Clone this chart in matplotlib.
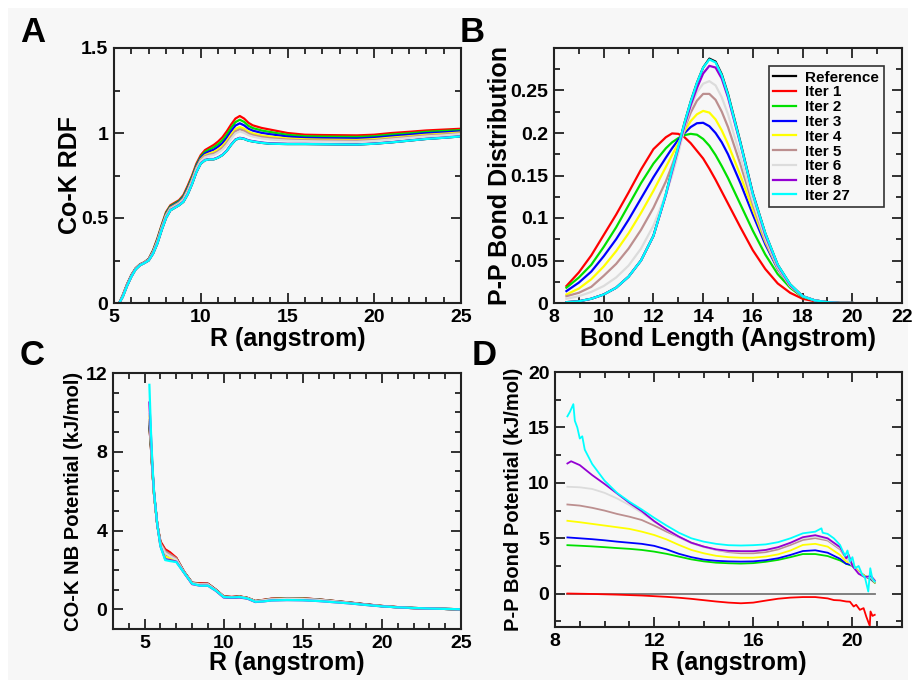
import matplotlib
matplotlib.use("Agg")
import matplotlib.pyplot as plt
from matplotlib.ticker import MultipleLocator, FuncFormatter
from matplotlib.patches import Rectangle

plt.rcParams['font.family'] = ['Liberation Sans', 'DejaVu Sans']
plt.rcParams['font.weight'] = 'bold'

# ---------------- data ----------------
series_names = ["Reference", "Iter 1", "Iter 2", "Iter 3", "Iter 4", "Iter 5", "Iter 6", "Iter 8", "Iter 27"]
series_colors = ["#000000", "#ff0000", "#00e000", "#0000ff", "#ffff00", "#bc8f8f", "#dcdcdc", "#9400d3", "#00ffff"]

# Panel A: Co-K RDF
a_r = [5.3, 5.5, 5.75, 6.0, 6.25, 6.5, 6.75, 7.0, 7.25, 7.5, 7.75, 8.0, 8.25, 8.5, 8.75, 9.0, 9.25, 9.5, 9.75,
       10.0, 10.25, 10.5, 10.75, 11.0, 11.25, 11.5, 11.75, 12.0, 12.25, 12.5, 12.75, 13.0, 13.5, 14, 15, 16, 17,
       18, 19, 20, 21, 22, 23, 24, 25]
a_ref = [0, .035, .10, .155, .198, .222, .235, .25, .29, .35, .43, .50, .545, .56, .575, .595, .64, .70, .77, .82,
         .84, .845, .845, .855, .87, .895, .93, .96, .97, .965, .955, .95, .942, .937, .935, .935, .934, .933, .932,
         .937, .945, .955, .965, .972, .98]
a_it1 = [0, .045, .11, .165, .205, .228, .24, .26, .31, .38, .46, .535, .575, .59, .605, .635, .69, .75, .82, .87,
         .90, .915, .93, .95, .975, 1.01, 1.05, 1.085, 1.10, 1.085, 1.06, 1.045, 1.03, 1.02, 1.0, .99, .988, .987,
         .986, .99, 1.0, 1.007, 1.015, 1.02, 1.025]
a_it2 = [0, .043, .108, .163, .204, .227, .239, .258, .307, .375, .455, .529, .57, .585, .6, .628, .681, .741, .811,
         .861, .89, .903, .916, .934, .957, .99, 1.03, 1.064, 1.078, 1.065, 1.042, 1.029, 1.015, 1.006, .989, .981,
         .979, .978, .977, .981, .991, .998, 1.007, 1.012, 1.017]
a_it3 = [0, .042, .107, .162, .203, .226, .238, .257, .303, .37, .45, .523, .565, .58, .595, .622, .674, .733, .804,
         .854, .88, .892, .902, .919, .94, .972, 1.01, 1.044, 1.057, 1.045, 1.025, 1.014, 1.001, .993, .979, .972,
         .97, .969, .968, .973, .982, .99, .999, 1.004, 1.01]
a_it4 = [0, .04, .105, .16, .202, .225, .238, .255, .30, .365, .445, .518, .56, .575, .59, .615, .665, .725, .795,
         .845, .87, .88, .888, .903, .923, .953, .99, 1.023, 1.035, 1.025, 1.008, .998, .986, .979, .968, .963,
         .961, .96, .959, .964, .973, .981, .99, .996, 1.003]
a_it5 = [0, .039, .104, .159, .201, .224, .237, .254, .298, .362, .442, .514, .557, .572, .587, .611, .66, .72, .79,
         .84, .864, .873, .879, .893, .912, .941, .978, 1.01, 1.022, 1.013, .997, .988, .977, .97, .961, .957,
         .956, .955, .954, .958, .967, .976, .985, .991, .998]
a_it6 = [0, .038, .103, .158, .2, .224, .237, .253, .296, .359, .439, .51, .554, .569, .584, .607, .655, .715, .785,
         .835, .858, .866, .87, .884, .902, .93, .966, .998, 1.009, 1.001, .987, .979, .968, .962, .955, .952,
         .95, .949, .948, .953, .962, .971, .98, .986, .994]
a_it8 = [0, .036, .101, .156, .199, .223, .236, .251, .292, .352, .432, .502, .547, .562, .577, .597, .642, .702,
         .772, .822, .842, .847, .847, .857, .872, .897, .932, .962, .972, .967, .957, .952, .944, .939, .936,
         .936, .935, .934, .933, .938, .946, .956, .966, .973, .981]
a_it27 = [0, .035, .10, .155, .198, .222, .235, .25, .29, .35, .43, .50, .545, .56, .575, .595, .64, .70, .77, .82,
          .84, .845, .845, .855, .87, .895, .93, .96, .97, .965, .955, .95, .942, .937, .935, .935, .934, .933,
          .932, .937, .945, .955, .965, .972, .98]

# Panel B: P-P bond distribution
b_len = [8.5, 9.0, 9.5, 10.0, 10.5, 11.0, 11.5, 12.0, 12.5, 12.75, 13.0, 13.25, 13.5, 13.75, 14.0, 14.25, 14.5,
         14.75, 15.0, 15.5, 16.0, 16.5, 17.0, 17.5, 18.0, 18.5, 19.0, 19.5, 20.0]
b_ref = [.001, .002, .005, .010, .018, .031, .050, .079, .128, .157, .184, .212, .237, .259, .277, .2875, .284,
         .269, .246, .189, .129, .082, .045, .022, .008, .003, .001, 0.0, 0.0]
b_it1 = [.020, .036, .056, .080, .104, .130, .157, .181, .195, .1995, .199, .195, .188, .179, .170, .158, .145,
         .131, .117, .089, .062, .040, .023, .012, .005, .002, .001, 0.0, 0.0]
b_it2 = [.018, .030, .045, .066, .089, .115, .141, .164, .182, .189, .194, .1975, .199, .198, .193, .185, .174,
         .161, .147, .116, .085, .057, .034, .018, .007, .003, .001, 0.0, 0.0]
b_it3 = [.014, .024, .037, .055, .075, .098, .123, .148, .171, .182, .192, .200, .207, .2115, .212, .208, .200,
         .189, .175, .141, .104, .069, .040, .020, .008, .003, .001, 0.0, 0.0]
b_it4 = [.010, .017, .028, .043, .061, .082, .106, .132, .160, .174, .188, .202, .214, .222, .226, .224, .216,
         .203, .187, .150, .110, .072, .041, .020, .008, .003, .001, 0.0, 0.0]
b_it5 = [.008, .012, .019, .032, .046, .064, .086, .112, .143, .162, .183, .205, .224, .238, .246, .246, .239,
         .225, .207, .163, .116, .074, .041, .020, .008, .003, .001, 0.0, 0.0]
b_it6 = [.005, .008, .013, .020, .030, .044, .064, .091, .128, .150, .176, .206, .230, .248, .258, .261, .256,
         .242, .222, .172, .120, .076, .042, .020, .008, .003, .001, 0.0, 0.0]
b_it8 = [.001, .002, .005, .010, .018, .031, .050, .079, .127, .155, .182, .209, .233, .253, .270, .279, .277,
         .264, .242, .187, .128, .080, .044, .021, .008, .003, .001, 0.0, 0.0]
b_it27 = [.001, .002, .005, .010, .018, .031, .050, .079, .128, .157, .184, .212, .237, .259, .277, .2865, .283,
          .268, .245, .188, .128, .082, .045, .022, .008, .003, .001, 0.0, 0.0]

# Panel C: CO-K NB potential
c_r = [5.3, 5.4, 5.5, 5.6, 5.8, 6.0, 6.3, 6.6, 7.0, 7.5, 8.0, 8.5, 9.0, 9.5, 10.0, 10.5, 11.0, 11.5, 12.0, 12.5,
       13, 14, 15, 16, 17, 18, 19, 20, 21, 22, 23, 24, 25]
c_ref = [9.3, 8.2, 6.9, 5.8, 4.3, 3.4, 3.0, 2.85, 2.6, 1.9, 1.35, 1.3, 1.3, 1.0, 0.65, 0.62, 0.65, 0.58, 0.42, 0.47,
         0.53, 0.56, 0.55, 0.5, 0.42, 0.34, 0.25, 0.17, 0.11, 0.07, 0.04, 0.02, -0.03]
c_it1 = [9.3, 8.2, 6.9, 5.8, 4.3, 3.45, 3.05, 2.9, 2.62, 1.9, 1.35, 1.32, 1.3, 1.0, 0.66, 0.63, 0.66, 0.58, 0.42, 0.48,
         0.54, 0.57, 0.56, 0.5, 0.42, 0.34, 0.25, 0.17, 0.11, 0.07, 0.04, 0.02, 0.0]
c_it2 = [9.4, 8.3, 7.0, 5.8, 4.3, 3.35, 2.9, 2.75, 2.55, 1.88, 1.33, 1.28, 1.27, 0.98, 0.64, 0.61, 0.64, 0.57, 0.41,
         0.46, 0.52, 0.55, 0.54, 0.49, 0.41, 0.33, 0.24, 0.16, 0.1, 0.06, 0.04, 0.02, 0.0]
c_it3 = [9.5, 8.4, 7.0, 5.8, 4.3, 3.3, 2.8, 2.65, 2.5, 1.86, 1.32, 1.25, 1.25, 0.97, 0.63, 0.61, 0.63, 0.56, 0.4,
         0.45, 0.5, 0.53, 0.52, 0.48, 0.4, 0.32, 0.24, 0.16, 0.1, 0.06, 0.04, 0.02, 0.0]
c_it4 = [9.8, 8.5, 7.0, 5.8, 4.3, 3.25, 2.7, 2.6, 2.48, 1.86, 1.31, 1.24, 1.24, 0.96, 0.63, 0.6, 0.63, 0.56, 0.4,
         0.44, 0.49, 0.52, 0.51, 0.47, 0.39, 0.31, 0.23, 0.16, 0.1, 0.06, 0.04, 0.02, 0.0]
c_it5 = [9.6, 8.4, 7.0, 5.8, 4.3, 3.35, 2.95, 2.8, 2.58, 1.88, 1.33, 1.28, 1.28, 0.98, 0.64, 0.61, 0.64, 0.57, 0.41,
         0.46, 0.52, 0.55, 0.54, 0.49, 0.41, 0.33, 0.24, 0.16, 0.1, 0.06, 0.04, 0.02, 0.0]
c_it6 = [9.9, 8.5, 7.0, 5.8, 4.3, 3.3, 2.85, 2.7, 2.52, 1.87, 1.32, 1.26, 1.26, 0.97, 0.63, 0.6, 0.63, 0.56, 0.4,
         0.45, 0.5, 0.53, 0.52, 0.47, 0.4, 0.32, 0.23, 0.16, 0.1, 0.06, 0.04, 0.02, 0.0]
c_it8 = [10.5, 8.8, 7.1, 5.9, 4.3, 3.2, 2.55, 2.5, 2.42, 1.85, 1.28, 1.2, 1.2, 0.94, 0.6, 0.58, 0.6, 0.54, 0.37,
         0.4, 0.45, 0.47, 0.46, 0.42, 0.36, 0.3, 0.22, 0.15, 0.1, 0.06, 0.04, 0.02, 0.0]
c_it27 = [11.4, 9.0, 7.2, 5.9, 4.3, 3.2, 2.5, 2.45, 2.4, 1.85, 1.3, 1.2, 1.2, 0.95, 0.62, 0.6, 0.62, 0.55, 0.38,
          0.4, 0.45, 0.47, 0.46, 0.42, 0.36, 0.3, 0.22, 0.15, 0.1, 0.07, 0.04, 0.02, 0.0]

# Panel D: P-P bond potential
d_ref_r = [8.5, 20.9]
d_ref = [0.0, 0.0]
d_r = [8.5, 9.0, 9.5, 10.0, 10.5, 11.0, 11.5, 12.0, 12.5, 13.0, 13.5, 14.0, 14.5, 15.0, 15.5, 16.0, 16.5, 17.0,
       17.5, 18.0, 18.5, 19.0, 19.5, 19.75, 20.0, 20.25, 20.5, 20.75, 20.9]
d_it2 = [4.38, 4.33, 4.27, 4.2, 4.12, 4.05, 3.95, 3.8, 3.6, 3.35, 3.1, 2.92, 2.8, 2.75, 2.72, 2.76, 2.88, 3.05,
         3.3, 3.58, 3.58, 3.4, 3.0, 2.7, 2.5, 2.0, 1.6, 1.3, 1.0]
d_it3 = [5.08, 5.0, 4.92, 4.82, 4.7, 4.6, 4.5, 4.32, 4.0, 3.6, 3.3, 3.08, 2.97, 2.92, 2.9, 2.92, 3.02, 3.2, 3.5,
         3.85, 3.92, 3.7, 3.15, 2.7, 2.6, 2.0, 1.6, 1.3, 1.0]
d_it4 = [6.58, 6.45, 6.3, 6.15, 6.0, 5.85, 5.6, 5.3, 4.9, 4.4, 3.95, 3.65, 3.42, 3.3, 3.25, 3.25, 3.35, 3.55, 3.9,
         4.4, 4.5, 4.25, 3.5, 2.9, 2.7, 2.0, 1.6, 1.4, 1.0]
d_it5 = [8.05, 7.95, 7.75, 7.5, 7.2, 6.95, 6.65, 6.15, 5.6, 5.1, 4.6, 4.25, 3.95, 3.75, 3.65, 3.65, 3.75, 4.0, 4.4,
         4.85, 5.02, 4.8, 4.0, 3.2, 2.6, 1.9, 1.5, 1.4, 1.1]
d_it6 = [9.65, 9.6, 9.45, 9.1, 8.6, 8.0, 7.3, 6.5, 5.75, 5.1, 4.55, 4.2, 3.95, 3.82, 3.78, 3.8, 3.9, 4.15, 4.55,
         5.0, 5.15, 4.9, 4.1, 3.2, 2.5, 1.9, 1.5, 1.5, 1.1]
d_it8_r = [8.5, 8.65, 9.0, 9.5, 10.0, 10.5, 11.0, 11.5, 12.0, 12.5, 13.0, 13.5, 14.0, 14.5, 15.0, 15.5, 16.0, 16.5,
           17.0, 17.5, 18.0, 18.5, 19.0, 19.5, 19.75, 19.85, 20.0, 20.25, 20.5, 20.75, 20.9]
d_it8 = [11.75, 11.95, 11.6, 10.7, 9.9, 9.05, 8.2, 7.45, 6.55, 5.8, 5.15, 4.6, 4.25, 4.0, 3.87, 3.84, 3.84, 3.95,
         4.2, 4.6, 5.1, 5.28, 5.0, 4.2, 3.2, 3.5, 2.5, 1.8, 1.5, 1.6, 1.2]
d_it27_r = [8.5, 8.6, 8.74, 8.8, 8.9, 9.0, 9.1, 9.2, 9.5, 10.0, 10.5, 11.0, 11.5, 12.0, 12.5, 13.0, 13.5, 14.0,
            14.5, 15.0, 15.5, 16.0, 16.5, 17.0, 17.5, 18.0, 18.5, 18.75, 18.8, 19.0, 19.25, 19.5, 19.7, 19.8,
            19.9, 20.0, 20.1, 20.25, 20.4, 20.5, 20.64, 20.72, 20.8, 20.9]
d_it27 = [16.0, 16.4, 17.1, 15.6, 15.0, 14.0, 14.2, 13.0, 11.7, 10.2, 9.1, 8.3, 7.6, 6.85, 6.15, 5.5, 5.0, 4.7,
          4.5, 4.38, 4.35, 4.38, 4.45, 4.65, 5.0, 5.45, 5.6, 5.9, 5.5, 5.4, 5.0, 4.4, 3.4, 3.9, 2.9, 3.3, 2.3, 2.5,
          1.7, 1.5, 0.2, 2.3, 1.4, 1.1]
d_it1_r = [8.5, 9.0, 9.5, 10.0, 10.5, 11.0, 11.5, 12.0, 12.5, 13.0, 13.5, 14.0, 14.5, 15.0, 15.5, 16.0, 16.5, 17.0,
           17.5, 18.0, 18.5, 19.0, 19.25, 19.5, 19.75, 19.9, 20.05, 20.15, 20.3, 20.45, 20.56, 20.7, 20.73, 20.81,
           20.9]
d_it1 = [0.02, 0.0, -0.02, -0.05, -0.08, -0.12, -0.16, -0.22, -0.28, -0.36, -0.46, -0.58, -0.7, -0.8, -0.86, -0.8,
         -0.62, -0.45, -0.35, -0.3, -0.3, -0.42, -0.57, -0.6, -0.7, -0.72, -1.15, -1.0, -1.45, -1.3, -2.07, -2.9,
         -1.6, -2.0, -1.9]

# ---------------- figure ----------------
fig = plt.figure(figsize=(9.13, 6.8), dpi=100)
fig.patch.set_facecolor("white")
bg = "#f7f7f7"
fig.patches.append(Rectangle((8 / 913, 0), 900 / 913, 672 / 680, transform=fig.transFigure,
                             facecolor=bg, edgecolor="none", zorder=-10))


def make_fmt(vmax=None):
    def fmt(v, pos):
        if vmax is not None and v > vmax + 1e-9:
            return ""
        return "{:g}".format(round(v, 6))
    return FuncFormatter(fmt)


def style(ax, xlim, ylim, xmaj, xmin, ymaj, ymin, xlabel, ylabel, xlab_size, ylab_size, ylab_x, xlab_y,
          ymax_label=None):
    ax.set_facecolor(bg)
    ax.set_xlim(*xlim)
    ax.set_ylim(*ylim)
    ax.xaxis.set_major_locator(MultipleLocator(xmaj))
    ax.xaxis.set_minor_locator(MultipleLocator(xmin))
    ax.yaxis.set_major_locator(MultipleLocator(ymaj))
    ax.yaxis.set_minor_locator(MultipleLocator(ymin))
    ax.xaxis.set_major_formatter(make_fmt())
    ax.yaxis.set_major_formatter(make_fmt(ymax_label))
    ax.tick_params(which="both", direction="in", top=True, right=True, color="#222222", width=1.3)
    ax.tick_params(which="major", length=7, labelsize=14, pad=4)
    ax.tick_params(which="minor", length=4)
    for lab in ax.get_xticklabels() + ax.get_yticklabels():
        lab.set_fontweight("bold")
    for sp in ax.spines.values():
        sp.set_linewidth(1.5)
        sp.set_color("#222222")
    ax.set_xlabel(xlabel, fontsize=xlab_size, fontweight="bold")
    ax.set_ylabel(ylabel, fontsize=ylab_size, fontweight="bold")
    ax.yaxis.label.set_va("center")
    ax.xaxis.label.set_va("center")
    ax.yaxis.set_label_coords(ylab_x, 0.5)
    ax.xaxis.set_label_coords(0.5, xlab_y)


lw = 1.6

# Panel A
axA = fig.add_axes([114 / 913, 1 - 303 / 680, 347 / 913, 255 / 680])
for ys, c in zip([a_ref, a_it1, a_it2, a_it3, a_it4, a_it5, a_it6, a_it8, a_it27], series_colors):
    axA.plot(a_r, ys, color=c, lw=lw)
style(axA, (5, 25), (0, 1.5), 5, 1, 0.5, 0.25, "R (angstrom)", "Co-K RDF", 18, 18, -0.127, -0.14)

# Panel B
axB = fig.add_axes([554 / 913, 1 - 303 / 680, 348 / 913, 255 / 680])
for ys, c, n in zip([b_ref, b_it1, b_it2, b_it3, b_it4, b_it5, b_it6, b_it8, b_it27], series_colors, series_names):
    axB.plot(b_len, ys, color=c, lw=lw, label=n)
style(axB, (8, 22), (0, 0.3), 2, 1, 0.05, 0.025, "Bond Length (Angstrom)", "P-P Bond Distribution", 18, 18,
      -0.155, -0.14, ymax_label=0.26)
leg = axB.legend(loc="upper right", bbox_to_anchor=(0.948, 0.929), borderaxespad=0, fancybox=False,
                 framealpha=1, edgecolor="#333333", facecolor=bg, prop={"weight": "bold", "size": 11},
                 handlelength=1.5, handletextpad=0.6, labelspacing=0.05, borderpad=0.3)
leg.get_frame().set_linewidth(1.2)

# Panel C
axC = fig.add_axes([113 / 913, 1 - 629 / 680, 348 / 913, 256 / 680])
for ys, c in zip([c_ref, c_it1, c_it2, c_it3, c_it4, c_it5, c_it6, c_it8, c_it27], series_colors):
    axC.plot(c_r, ys, color=c, lw=lw)
style(axC, (3, 25), (-1, 12), 5, 1, 4, 1, "R (angstrom)", "CO-K NB Potential (kJ/mol)", 18, 14.5,
      -0.1135, -0.133)

# Panel D
axD = fig.add_axes([555 / 913, 1 - 627 / 680, 347 / 913, 255 / 680])
axD.plot(d_ref_r, d_ref, color="#777777", lw=1.3)
axD.plot(d_it1_r, d_it1, color=series_colors[1], lw=1.3)
axD.plot(d_r, d_it2, color=series_colors[2], lw=1.3)
axD.plot(d_r, d_it3, color=series_colors[3], lw=1.3)
axD.plot(d_r, d_it4, color=series_colors[4], lw=1.3)
axD.plot(d_r, d_it5, color=series_colors[5], lw=1.3)
axD.plot(d_r, d_it6, color=series_colors[6], lw=1.3)
axD.plot(d_it8_r, d_it8, color=series_colors[7], lw=1.3)
axD.plot(d_it27_r, d_it27, color=series_colors[8], lw=1.3)
style(axD, (8, 22), (-3, 20), 4, 1, 5, 2.5, "R (angstrom)", "P-P Bond Potential (kJ/mol)", 18, 14.5,
      -0.121, -0.142)

# panel letters
for letter, x, y in [("A", 20, 42), ("B", 460, 42), ("C", 20, 365), ("D", 472, 365)]:
    fig.text(x / 913, 1 - y / 680, letter, fontsize=25, fontweight="bold", ha="left", va="baseline")

fig.savefig("out.png", dpi=100, facecolor=fig.get_facecolor())
